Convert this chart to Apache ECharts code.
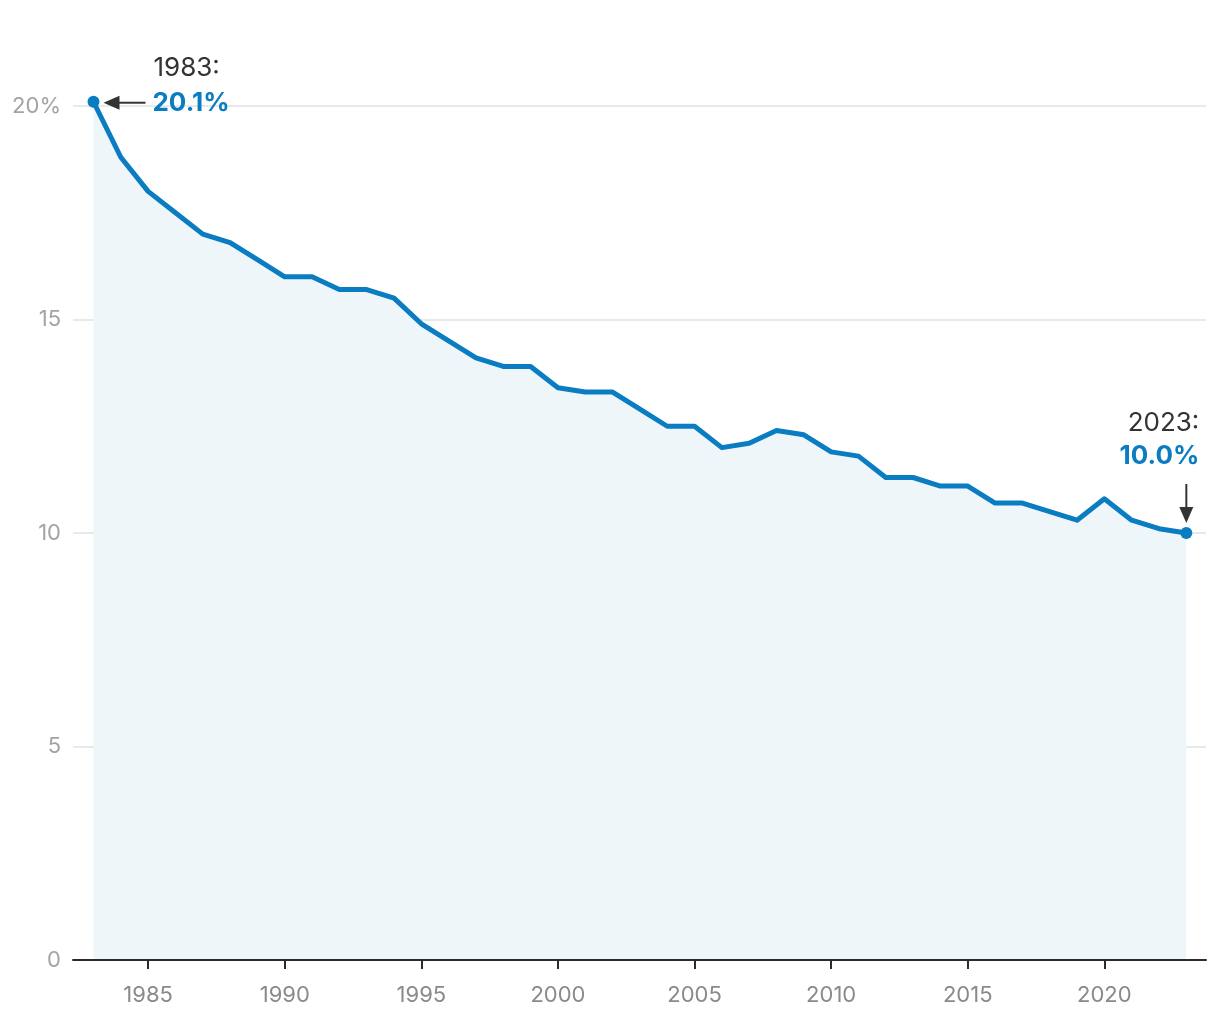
<!DOCTYPE html>
<html>
<head>
<meta charset="utf-8">
<script src="https://cdn.jsdelivr.net/npm/echarts@6/dist/echarts.min.js"></script>
<style>
html,body{margin:0;padding:0;background:#fff;}
#c{width:1220px;height:1020px;}
</style>
</head>
<body>
<div id="c"></div>
<script>
const years = [1983,1984,1985,1986,1987,1988,1989,1990,1991,1992,1993,1994,1995,1996,1997,1998,1999,2000,2001,2002,2003,2004,2005,2006,2007,2008,2009,2010,2011,2012,2013,2014,2015,2016,2017,2018,2019,2020,2021,2022,2023];
const rates = [20.1,18.8,18.0,17.5,17.0,16.8,16.4,16.0,16.0,15.7,15.7,15.5,14.9,14.5,14.1,13.9,13.9,13.4,13.3,13.3,12.9,12.5,12.5,12.0,12.1,12.4,12.3,11.9,11.8,11.3,11.3,11.1,11.1,10.7,10.7,10.5,10.3,10.8,10.3,10.1,10.0];
const xTicks = [1985,1990,1995,2000,2005,2010,2015,2020];
const yTicks = [0,5,10,15,20];

const FONT = 'Inter, "Noto Sans", sans-serif';
const BLUE = '#0a7cc1';
const chart = echarts.init(document.getElementById('c'), null, {renderer:'canvas'});
const data = years.map((y,i)=>[y, rates[i]]);
const lastIdx = years.length-1;

chart.setOption({
  animation:false,
  grid:{left:73, right:14, top:106, bottom:60, containLabel:false},
  xAxis:{
    type:'value', min:1982.25, max:2023.72, z:10,
    splitLine:{show:false},
    axisLine:{show:true, lineStyle:{color:'#2b2b2b', width:2}},
    axisTick:{show:true, customValues:xTicks, length:9, lineStyle:{color:'#2b2b2b', width:2}},
    axisLabel:{customValues:xTicks, color:'#8a8a8a', fontSize:22, fontFamily:FONT, margin:24,
      formatter:v=>String(v)}
  },
  yAxis:{
    type:'value', min:0, max:20, interval:5,
    axisLine:{show:false}, axisTick:{show:false},
    splitLine:{show:true, lineStyle:{color:'#dfe3e5', width:1.5}},
    axisLabel:{color:'#a3a3a3', fontSize:22, fontFamily:FONT, margin:12,
      formatter:v=> v===20 ? '20%' : String(v)}
  },
  series:[{
    type:'line', data:data, clip:false,
    showSymbol:true, symbol:'circle',
    symbolSize:(v,p)=> (p.dataIndex===0 || p.dataIndex===lastIdx) ? 12 : 0,
    itemStyle:{color:BLUE},
    lineStyle:{color:BLUE, width:5, join:'round'},
    areaStyle:{color:'#eef6fa', opacity:1},
    z:3
  }]
});

function addAnnotations(){
  const p0 = chart.convertToPixel({gridIndex:0}, data[0]);
  const p1 = chart.convertToPixel({gridIndex:0}, data[lastIdx]);
  const dark = '#333333';
  const els = [
    {type:'line', shape:{x1:p0[0]+52, y1:p0[1]+1, x2:p0[0]+22, y2:p0[1]+1}, style:{stroke:dark, lineWidth:2}},
    {type:'polygon', shape:{points:[[p0[0]+10,p0[1]+1],[p0[0]+26,p0[1]-6],[p0[0]+26,p0[1]+8]]}, style:{fill:dark}},
    {type:'text', x:p0[0]+60, y:p0[1]-34, style:{text:years[0]+':', fill:dark, font:'400 26px '+FONT, textAlign:'left', textVerticalAlign:'middle'}},
    {type:'text', x:p0[0]+59, y:p0[1]+1, style:{text:rates[0].toFixed(1)+'%', fill:BLUE, font:'700 26px '+FONT, textAlign:'left', textVerticalAlign:'middle'}},
    {type:'line', shape:{x1:p1[0], y1:p1[1]-49, x2:p1[0], y2:p1[1]-20}, style:{stroke:dark, lineWidth:2}},
    {type:'polygon', shape:{points:[[p1[0],p1[1]-10],[p1[0]-7,p1[1]-26],[p1[0]+7,p1[1]-26]]}, style:{fill:dark}},
    {type:'text', x:p1[0]+13, y:p1[1]-110, style:{text:years[lastIdx]+':', fill:dark, font:'400 26px '+FONT, textAlign:'right', textVerticalAlign:'middle'}},
    {type:'text', x:p1[0]+13, y:p1[1]-77, style:{text:rates[lastIdx].toFixed(1)+'%', fill:BLUE, font:'700 26px '+FONT, textAlign:'right', textVerticalAlign:'middle'}}
  ];
  chart.setOption({graphic:{elements:els}});
}
addAnnotations();
</script>
</body>
</html>
